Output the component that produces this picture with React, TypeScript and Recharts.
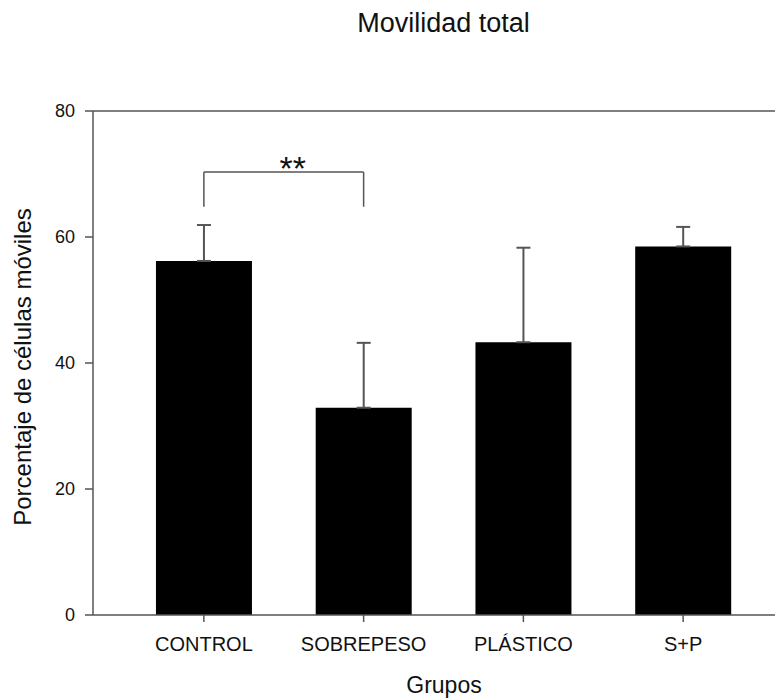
import {
  BarChart, Bar, XAxis, YAxis, ErrorBar, ReferenceLine,
} from "recharts";

const groups = ["CONTROL", "SOBREPESO", "PLÁSTICO", "S+P"];
const means = [56.2, 32.9, 43.3, 58.5];
const errors = [5.7, 10.3, 15.0, 3.1];
const yTicks = [0, 20, 40, 60, 80];

// significance bracket between CONTROL and SOBREPESO
const bracketTop = 70.3;
const bracketLeg = 64.8;
const bracketText = "**";

const rows = groups.map((g, i) => ({ group: g, mean: means[i], err: [0, errors[i]] }));

const axisColor = "#555";
const font = "'Liberation Sans', Arial, sans-serif";

export default function App() {
  return (
    <div style={{ position: "relative", width: 775, height: 690, fontFamily: font }}>
      <div style={{
        position: "absolute", top: 2, left: 0, width: 871, textAlign: "center",
        fontSize: 27, lineHeight: "26px", color: "#111",
      }}>
        Movilidad total
      </div>
      <BarChart width={775} height={690} data={rows} barCategoryGap="20%"
        margin={{ top: 103, right: 0, left: 0, bottom: 0 }}>
        <XAxis dataKey="group" height={83} stroke={axisColor} strokeWidth={1.5}
          tickSize={7} tickMargin={15} padding={{ left: 31, right: 20 }}
          tick={{ fill: "#111", fontSize: 20, fontFamily: font }}
          label={{ value: "Grupos", position: "insideBottom", offset: 5, dx: 6, fill: "#111", fontSize: 23, fontFamily: font }} />
        <YAxis domain={[0, 80]} ticks={yTicks} width={85} stroke={axisColor} strokeWidth={1.5}
          tickSize={8} tickMargin={10}
          tick={{ fill: "#111", fontSize: 18, fontFamily: font }}
          label={{ value: "Porcentaje de células móviles", angle: -90, position: "center", dx: -28, dy: 4, fill: "#111", fontSize: 24, fontFamily: font }} />
        <ReferenceLine y={80} stroke={axisColor} strokeWidth={1.5} />
        <Bar dataKey="mean" fill="#000" isAnimationActive={false}>
          <ErrorBar dataKey="err" width={7} stroke={axisColor} strokeWidth={2} direction="y" />
        </Bar>
        <ReferenceLine stroke={axisColor} strokeWidth={1.5}
          segment={[{ x: groups[0], y: bracketLeg }, { x: groups[0], y: bracketTop }]} />
        <ReferenceLine stroke={axisColor} strokeWidth={1.5}
          segment={[{ x: groups[1], y: bracketLeg }, { x: groups[1], y: bracketTop }]} />
        <ReferenceLine stroke={axisColor} strokeWidth={1.5}
          segment={[{ x: groups[0], y: bracketTop }, { x: groups[1], y: bracketTop }]}
          label={{ value: bracketText, position: "top", offset: -8, dx: 9, fill: "#111", fontSize: 34, fontFamily: font }} />
      </BarChart>
    </div>
  );
}
